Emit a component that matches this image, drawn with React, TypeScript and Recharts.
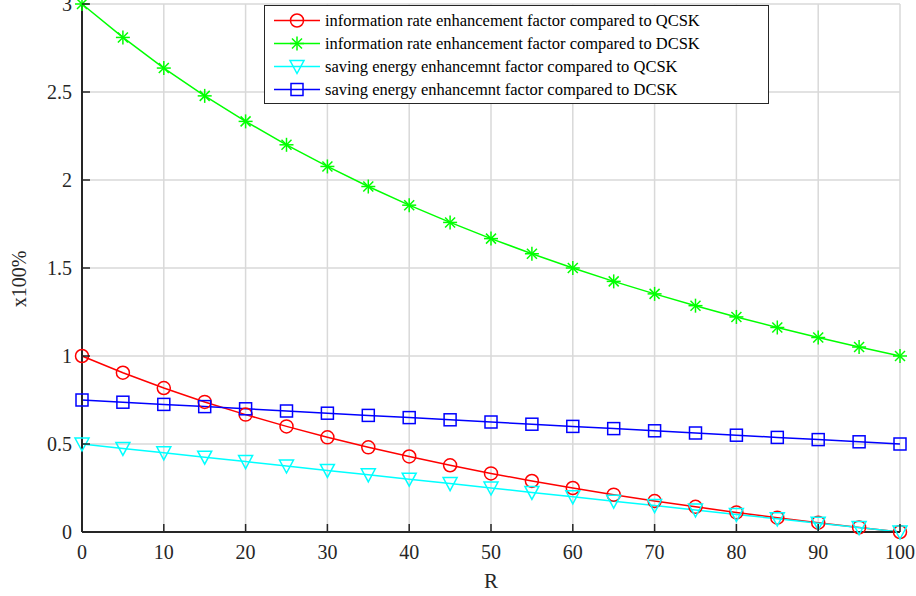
import {
  LineChart,
  Line,
  XAxis,
  YAxis,
  CartesianGrid,
  Legend,
  Label,
} from "recharts";

// R values (x axis)
const rValues = [0, 5, 10, 15, 20, 25, 30, 35, 40, 45, 50, 55, 60, 65, 70, 75, 80, 85, 90, 95, 100];

// series
const rateVsQcsk = [1.0, 0.905, 0.818, 0.739, 0.667, 0.6, 0.538, 0.481, 0.429, 0.379, 0.333, 0.29, 0.25, 0.212, 0.176, 0.143, 0.111, 0.081, 0.053, 0.026, 0.0];
const rateVsDcsk = [3.0, 2.81, 2.636, 2.478, 2.333, 2.2, 2.077, 1.963, 1.857, 1.759, 1.667, 1.581, 1.5, 1.424, 1.353, 1.286, 1.222, 1.162, 1.105, 1.051, 1.0];
const energyVsQcsk = [0.5, 0.475, 0.45, 0.425, 0.4, 0.375, 0.35, 0.325, 0.3, 0.275, 0.25, 0.225, 0.2, 0.175, 0.15, 0.125, 0.1, 0.075, 0.05, 0.025, 0.0];
const energyVsDcsk = [0.75, 0.7375, 0.725, 0.7125, 0.7, 0.6875, 0.675, 0.6625, 0.65, 0.6375, 0.625, 0.6125, 0.6, 0.5875, 0.575, 0.5625, 0.55, 0.5375, 0.525, 0.5125, 0.5];

const xTicks = [0, 10, 20, 30, 40, 50, 60, 70, 80, 90, 100];
const yTicks = [0, 0.5, 1, 1.5, 2, 2.5, 3];

const seriesNames = [
  "information rate enhancement factor compared to QCSK",
  "information rate enhancement factor compared to DCSK",
  "saving energy enhancemnt factor compared to QCSK",
  "saving energy enhancemnt factor compared to DCSK",
];

const data = rValues.map((r, i) => ({
  r,
  rq: rateVsQcsk[i],
  rd: rateVsDcsk[i],
  eq: energyVsQcsk[i],
  ed: energyVsDcsk[i],
}));

const FONT = '"Liberation Serif", "Times New Roman", "DejaVu Serif", serif';
const AXIS = "#262626";
const TICK_MARGIN = 8;
const TICK_LEN = 8;

// markers
const Marker = ({ kind, cx, cy, color }: any) => {
  if (cx == null || cy == null) return null;
  const common = { fill: "none", stroke: color, strokeWidth: 1.5 };
  if (kind === "circle") return <circle cx={cx} cy={cy} r={6.5} {...common} />;
  if (kind === "square")
    return <rect x={cx - 6} y={cy - 6} width={12} height={12} {...common} />;
  if (kind === "triangle")
    return (
      <polygon
        points={`${cx - 7},${cy - 6} ${cx + 7},${cy - 6} ${cx},${cy + 7}`}
        {...common}
      />
    );
  // asterisk
  const s = 7;
  const d = 5;
  return (
    <g stroke={color} strokeWidth={1.5}>
      <line x1={cx - s} y1={cy} x2={cx + s} y2={cy} />
      <line x1={cx} y1={cy - s} x2={cx} y2={cy + s} />
      <line x1={cx - d} y1={cy - d} x2={cx + d} y2={cy + d} />
      <line x1={cx - d} y1={cy + d} x2={cx + d} y2={cy - d} />
    </g>
  );
};

const seriesStyle = [
  { key: "rq", color: "#ff0000", kind: "circle" },
  { key: "rd", color: "#00ff00", kind: "star" },
  { key: "eq", color: "#00ffff", kind: "triangle" },
  { key: "ed", color: "#0000ff", kind: "square" },
];

// ticks pointing into the plot (matlab style)
const BottomTick = (props: any) => {
  const { x, y, payload } = props;
  const axisY = y - TICK_MARGIN;
  return (
    <g>
      <line x1={x} x2={x} y1={axisY} y2={axisY - TICK_LEN} stroke={AXIS} strokeWidth={1.5} />
      <text x={x} y={axisY + 27} textAnchor="middle" style={{ fontFamily: FONT }} fontSize={20} fill={AXIS}>
        {payload.value}
      </text>
    </g>
  );
};

const TopTick = (props: any) => {
  const { x, y } = props;
  const axisY = y + TICK_MARGIN;
  return <line x1={x} x2={x} y1={axisY} y2={axisY + TICK_LEN} stroke={AXIS} strokeWidth={1.5} />;
};

const LeftTick = (props: any) => {
  const { x, y, payload } = props;
  const axisX = x + TICK_MARGIN;
  return (
    <g>
      <line x1={axisX} x2={axisX + TICK_LEN} y1={y} y2={y} stroke={AXIS} strokeWidth={1.5} />
      <text x={axisX - 10} y={y} dy="0.35em" textAnchor="end" style={{ fontFamily: FONT }} fontSize={20} fill={AXIS}>
        {payload.value}
      </text>
    </g>
  );
};

const RightTick = (props: any) => {
  const { x, y } = props;
  const axisX = x - TICK_MARGIN;
  return <line x1={axisX} x2={axisX - TICK_LEN} y1={y} y2={y} stroke={AXIS} strokeWidth={1.5} />;
};

const LegendBox = () => (
  <div
    style={{
      border: `1.5px solid ${AXIS}`,
      background: "#fff",
      padding: "3px 0 2px 0",
      fontFamily: FONT,
      fontSize: 16.5,
      color: "#000",
      boxSizing: "border-box",
    }}
  >
    {seriesNames.map((name, i) => (
      <div key={name} style={{ display: "flex", alignItems: "center", height: 23 }}>
        <svg width={58} height={23} style={{ flex: "none" }}>
          <line x1={9} x2={55} y1={11.5} y2={11.5} stroke={seriesStyle[i].color} strokeWidth={1.5} />
          <Marker kind={seriesStyle[i].kind} cx={32} cy={11.5} color={seriesStyle[i].color} />
        </svg>
        <span style={{ whiteSpace: "nowrap", marginLeft: 2 }}>{name}</span>
      </div>
    ))}
  </div>
);

const App = () => {
  return (
    <div style={{ position: "absolute", left: 0, top: 0, background: "#fff", fontFamily: FONT }}>
      <LineChart
        width={916}
        height={596}
        data={data}
        margin={{ top: 4, right: 16, bottom: 0, left: 0 }}
        style={{ fontFamily: FONT }}
      >
        <CartesianGrid stroke="#d9d9d9" strokeWidth={1.5} vertical horizontal />
        <XAxis
          dataKey="r"
          type="number"
          domain={[0, 100]}
          ticks={xTicks}
          height={64}
          tickSize={0}
          tickMargin={TICK_MARGIN}
          tickLine={false}
          axisLine={{ stroke: AXIS, strokeWidth: 2 }}
          tick={<BottomTick />}
          interval={0}
        >
          <Label
            content={(p: any) => {
              const vb = p.viewBox;
              return (
                <text x={vb.x + vb.width / 2} y={vb.y + 56} textAnchor="middle" style={{ fontFamily: FONT }} fontSize={21} fill={AXIS}>
                  R
                </text>
              );
            }}
          />
        </XAxis>
        <XAxis
          xAxisId="top"
          orientation="top"
          dataKey="r"
          type="number"
          domain={[0, 100]}
          ticks={xTicks}
          height={0}
          tickSize={0}
          tickMargin={TICK_MARGIN}
          tickLine={false}
          axisLine={{ stroke: AXIS, strokeWidth: 2 }}
          tick={<TopTick />}
          interval={0}
        />
        <YAxis
          type="number"
          domain={[0, 3]}
          ticks={yTicks}
          width={82}
          tickSize={0}
          tickMargin={TICK_MARGIN}
          tickLine={false}
          axisLine={{ stroke: AXIS, strokeWidth: 2 }}
          tick={<LeftTick />}
          interval={0}
        >
          <Label
            content={(p: any) => {
              const vb = p.viewBox;
              const cy = vb.y + vb.height / 2 + 11;
              return (
                <text
                  x={19}
                  y={cy}
                  transform={`rotate(-90, 19, ${cy})`}
                  textAnchor="middle"
                  dominantBaseline="central"
                  style={{ fontFamily: FONT }}
                  fontSize={20}
                  fill={AXIS}
                >
                  x100%
                </text>
              );
            }}
          />
        </YAxis>
        <YAxis
          yAxisId="right"
          orientation="right"
          type="number"
          domain={[0, 3]}
          ticks={yTicks}
          width={0}
          tickSize={0}
          tickMargin={TICK_MARGIN}
          tickLine={false}
          axisLine={{ stroke: AXIS, strokeWidth: 2 }}
          tick={<RightTick />}
          interval={0}
        />
        <Legend
          layout="vertical"
          align="center"
          verticalAlign="middle"
          wrapperStyle={{ top: 5, left: 264, width: 505 }}
          content={<LegendBox />}
        />
        {seriesStyle.map((s, i) => (
          <Line
            key={s.key}
            dataKey={s.key}
            name={seriesNames[i]}
            type="linear"
            stroke={s.color}
            strokeWidth={1.5}
            dot={(p: any) => <Marker key={`${s.key}-${p.index}`} kind={s.kind} cx={p.cx} cy={p.cy} color={s.color} />}
            activeDot={false}
            isAnimationActive={false}
          />
        ))}
      </LineChart>
    </div>
  );
};

export default App;
